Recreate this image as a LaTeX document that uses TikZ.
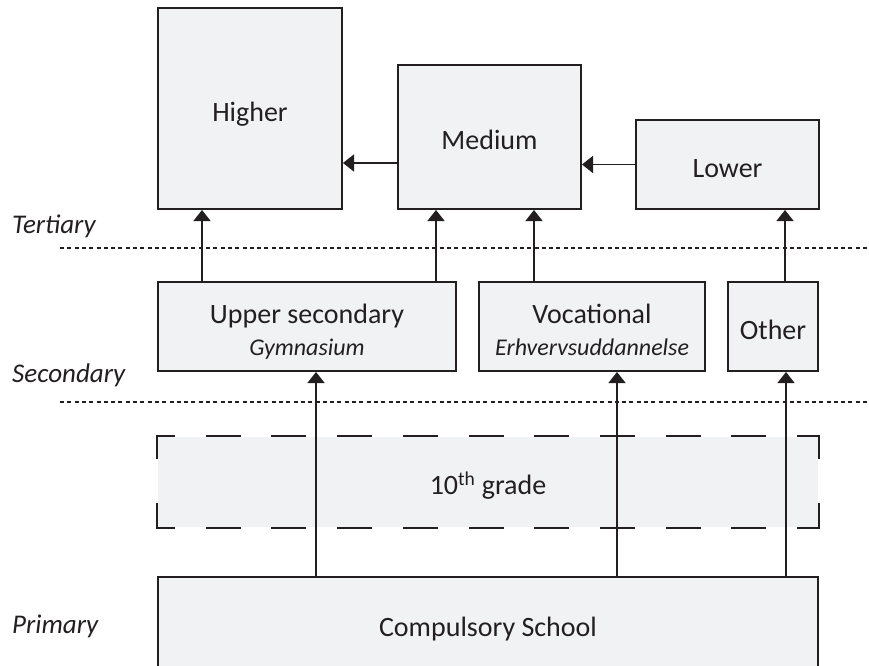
\documentclass[tikz,border=0pt]{standalone}
\usepackage{fontspec}
\setmainfont{Carlito}
\usetikzlibrary{arrows.meta}
\definecolor{ink}{RGB}{35,31,32}
\definecolor{paper}{RGB}{241,242,244}
\newcommand\subline[1]{{\fontsize{24}{32}\selectfont\itshape #1}}

\begin{document}
\begin{tikzpicture}[x = 1pt, y = -1pt, >= {Triangle[length = 11pt, width = 17pt]},
  every node/.style = {text = ink, font = \fontsize{28}{32}\selectfont},
  box/.style = {draw = ink, fill = paper, line width = 2pt, inner sep = 0pt, align = center,
    text height = 31pt, text depth = 6pt},
  twoline/.style = {text height = 62pt, text depth = 5pt},
  flow/.style = {->, draw = ink, line width = 1.6pt},
  level/.style = {anchor = base west, inner sep = 0pt, font = \fontsize{27}{32}\selectfont\itshape},
  sep/.style = {draw = ink, line width = 1.3pt, dash pattern = on 4pt off 3.3pt},
  tenthedge/.style = {draw = ink, line width = 2pt, line cap = rect}]
  \clip (0,0) rectangle (869,665);

  % levels
  \node[level] (tertiary) at (12,233) {Tertiary};
  \node[level] (secondary) at (12,382) {Secondary};
  \node[level] (primary) at (12,633) {Primary};
  \draw[sep] (60,248) -- (869,248);
  \draw[sep] (60,402) -- (869,402);

  % tertiary
  \node[box, minimum width = 184pt, minimum height = 201pt] (higher) at (250,108.5) {Higher};
  \node[box, minimum width = 183pt, minimum height = 144pt] (medium) at (489.5,137) {Medium};
  \node[box, minimum width = 183pt, minimum height = 89pt] (lower) at (727.5,164.5) {Lower};

  % secondary
  \node[box, twoline, minimum width = 298pt, minimum height = 89pt] (upper) at (307,326.5)
    {Upper secondary\\\subline{Gymnasium}};
  \node[box, twoline, minimum width = 226pt, minimum height = 89pt] (vocational) at (592,326.5)
    {Vocational\\\subline{Erhvervsuddannelse}};
  \node[box, minimum width = 90pt, minimum height = 89pt] (other) at (773,326.5) {Other};

  % 10th grade and primary
  \node[box, draw = none, minimum width = 660pt, minimum height = 90pt] (tenth)
    at (488,482) {10\textsuperscript{th} grade};
  \draw[tenthedge, dash pattern = on 33pt off 32.7pt, dash phase = 16pt]
    (tenth.north west) -- (tenth.north east);
  \draw[tenthedge, dash pattern = on 33pt off 32.7pt, dash phase = 16pt]
    (tenth.south west) -- (tenth.south east);
  \draw[tenthedge, dash pattern = on 22pt off 46pt] (tenth.north west) -- (tenth.south west);
  \draw[tenthedge, dash pattern = on 22pt off 46pt] (tenth.north east) -- (tenth.south east);
  \node[box, minimum width = 660pt, minimum height = 93pt] (school) at (488,623.5) {Compulsory School};

  % paths
  \draw[flow] ([yshift = -26pt]medium.west) -- ([yshift = -26pt]medium.west -| higher.east);
  \draw[flow] (lower.west) -- (lower.west -| medium.east);
  \draw[flow] ([xshift = 45pt]upper.north west) -- ([xshift = 45pt]upper.north west |- higher.south);
  \draw[flow] ([xshift = -21pt]upper.north east) -- ([xshift = -21pt]upper.north east |- medium.south);
  \draw[flow] ([xshift = 56pt]vocational.north west) -- ([xshift = 56pt]vocational.north west |- medium.south);
  \draw[flow] ([xshift = -34pt]other.north east) -- ([xshift = -34pt]other.north east |- lower.south);
  \draw[flow] ([xshift = 159pt]school.north west) -- ([xshift = 159pt]school.north west |- upper.south);
  \draw[flow] ([xshift = 460pt]school.north west) -- ([xshift = 460pt]school.north west |- vocational.south);
  \draw[flow] ([xshift = -33pt]school.north east) -- ([xshift = -33pt]school.north east |- other.south);
\end{tikzpicture}
\end{document}
